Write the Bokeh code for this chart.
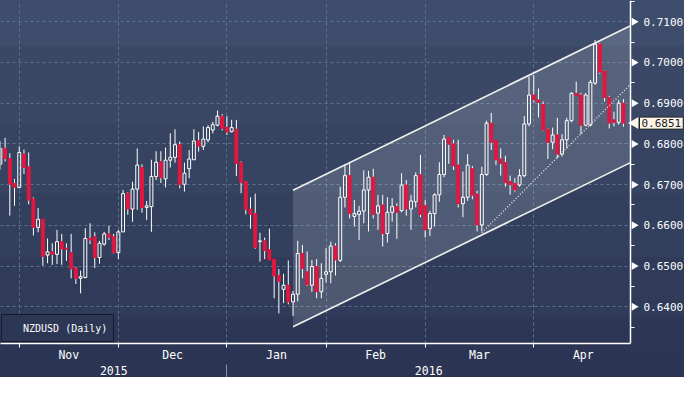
import math
import pandas as pd
from bokeh.plotting import figure
from bokeh.models import (FixedTicker, LinearAxis, Label, Legend, LegendItem,
                          PrintfTickFormatter, Range1d, ColumnDataSource)
from bokeh.embed import file_html
from bokeh.resources import INLINE

# ---------------- data (NZDUSD daily) ----------------
dates = pd.bdate_range("2015-10-27", "2016-04-28")

opens = [0.6750, 0.6789, 0.6764, 0.6703, 0.6693, 0.6775, 0.6744, 0.6665, 0.6595, 0.6615,
         0.6527, 0.6535, 0.6529, 0.6560, 0.6544, 0.6533, 0.6495, 0.6470, 0.6472, 0.6568,
         0.6572, 0.6521, 0.6554, 0.6579, 0.6572, 0.6533, 0.6584, 0.6678, 0.6640, 0.6689,
         0.6742, 0.6644, 0.6646, 0.6720, 0.6756, 0.6714, 0.6760, 0.6767, 0.6798, 0.6701,
         0.6739, 0.6761, 0.6808, 0.6794, 0.6810, 0.6834, 0.6846, 0.6868, 0.6841, 0.6830,
         0.6836, 0.6754, 0.6707, 0.6640, 0.6629, 0.6560, 0.6562, 0.6540, 0.6517, 0.6477,
         0.6443, 0.6453, 0.6412, 0.6431, 0.6531, 0.6486, 0.6453, 0.6499, 0.6437, 0.6480,
         0.6486, 0.6549, 0.6514, 0.6669, 0.6722, 0.6622, 0.6627, 0.6635, 0.6687, 0.6718,
         0.6630, 0.6650, 0.6580, 0.6632, 0.6646, 0.6636, 0.6699, 0.6640, 0.6658, 0.6724,
         0.6648, 0.6592, 0.6629, 0.6675, 0.6725, 0.6816, 0.6800, 0.6748, 0.6653, 0.6669,
         0.6739, 0.6677, 0.6601, 0.6725, 0.6851, 0.6808, 0.6763, 0.6754, 0.6707, 0.6703,
         0.6699, 0.6722, 0.6849, 0.6920, 0.6908, 0.6897, 0.6836, 0.6804, 0.6822, 0.6775,
         0.6810, 0.6857, 0.6924, 0.6920, 0.6846, 0.6846, 0.6949, 0.7045, 0.6979, 0.6914,
         0.6859, 0.6853, 0.6900]
highs = [0.6807, 0.6815, 0.6777, 0.6714, 0.6794, 0.6786, 0.6779, 0.6669, 0.6643, 0.6615,
         0.6568, 0.6556, 0.6589, 0.6579, 0.6556, 0.6579, 0.6498, 0.6489, 0.6593, 0.6605,
         0.6583, 0.6562, 0.6584, 0.6599, 0.6579, 0.6589, 0.6687, 0.6681, 0.6707, 0.6789,
         0.6750, 0.6660, 0.6761, 0.6782, 0.6782, 0.6791, 0.6826, 0.6836, 0.6806, 0.6754,
         0.6785, 0.6836, 0.6829, 0.6843, 0.6846, 0.6854, 0.6882, 0.6873, 0.6868, 0.6859,
         0.6859, 0.6757, 0.6709, 0.6669, 0.6678, 0.6582, 0.6570, 0.6592, 0.6517, 0.6493,
         0.6481, 0.6514, 0.6439, 0.6562, 0.6552, 0.6536, 0.6515, 0.6517, 0.6507, 0.6544,
         0.6560, 0.6556, 0.6695, 0.6750, 0.6756, 0.6662, 0.6648, 0.6735, 0.6734, 0.6739,
         0.6675, 0.6675, 0.6669, 0.6667, 0.6654, 0.6728, 0.6711, 0.6675, 0.6730, 0.6773,
         0.6662, 0.6636, 0.6679, 0.6755, 0.6822, 0.6816, 0.6810, 0.6810, 0.6732, 0.6775,
         0.6746, 0.6685, 0.6744, 0.6857, 0.6876, 0.6808, 0.6789, 0.6771, 0.6722, 0.6716,
         0.6738, 0.6868, 0.6965, 0.6969, 0.6936, 0.6904, 0.6838, 0.6840, 0.6864, 0.6824,
         0.6864, 0.6927, 0.6953, 0.6925, 0.6925, 0.6957, 0.7055, 0.7048, 0.6981, 0.6918,
         0.6879, 0.6908, 0.6910]
lows = [0.6737, 0.6757, 0.6624, 0.6648, 0.6691, 0.6726, 0.6652, 0.6575, 0.6583, 0.6501,
        0.6507, 0.6503, 0.6505, 0.6503, 0.6513, 0.6470, 0.6456, 0.6433, 0.6470, 0.6554,
        0.6495, 0.6506, 0.6550, 0.6564, 0.6531, 0.6517, 0.6584, 0.6626, 0.6609, 0.6638,
        0.6631, 0.6613, 0.6584, 0.6711, 0.6704, 0.6693, 0.6742, 0.6754, 0.6691, 0.6683,
        0.6716, 0.6761, 0.6781, 0.6785, 0.6804, 0.6826, 0.6843, 0.6833, 0.6822, 0.6828,
        0.6721, 0.6679, 0.6627, 0.6592, 0.6542, 0.6511, 0.6517, 0.6515, 0.6421, 0.6384,
        0.6409, 0.6406, 0.6378, 0.6413, 0.6470, 0.6451, 0.6437, 0.6421, 0.6421, 0.6460,
        0.6458, 0.6477, 0.6510, 0.6644, 0.6617, 0.6597, 0.6564, 0.6605, 0.6585, 0.6617,
        0.6589, 0.6548, 0.6558, 0.6609, 0.6567, 0.6632, 0.6624, 0.6589, 0.6644, 0.6620,
        0.6570, 0.6574, 0.6597, 0.6658, 0.6718, 0.6751, 0.6736, 0.6644, 0.6620, 0.6660,
        0.6664, 0.6585, 0.6585, 0.6721, 0.6785, 0.6748, 0.6722, 0.6695, 0.6675, 0.6683,
        0.6695, 0.6718, 0.6843, 0.6902, 0.6865, 0.6832, 0.6763, 0.6787, 0.6765, 0.6769,
        0.6789, 0.6853, 0.6918, 0.6824, 0.6843, 0.6843, 0.6945, 0.6972, 0.6904, 0.6838,
        0.6843, 0.6847, 0.6842]
closes = [0.6789, 0.6764, 0.6701, 0.6693, 0.6779, 0.6742, 0.6662, 0.6595, 0.6615, 0.6524,
          0.6535, 0.6529, 0.6560, 0.6542, 0.6541, 0.6493, 0.6470, 0.6474, 0.6568, 0.6564,
          0.6521, 0.6556, 0.6579, 0.6571, 0.6533, 0.6584, 0.6678, 0.6640, 0.6689, 0.6748,
          0.6644, 0.6648, 0.6720, 0.6755, 0.6717, 0.6760, 0.6767, 0.6798, 0.6700, 0.6728,
          0.6763, 0.6807, 0.6794, 0.6812, 0.6840, 0.6847, 0.6868, 0.6838, 0.6829, 0.6840,
          0.6752, 0.6705, 0.6639, 0.6627, 0.6545, 0.6562, 0.6538, 0.6515, 0.6476, 0.6463,
          0.6453, 0.6412, 0.6431, 0.6531, 0.6494, 0.6454, 0.6499, 0.6437, 0.6470, 0.6486,
          0.6549, 0.6515, 0.6669, 0.6722, 0.6629, 0.6629, 0.6635, 0.6687, 0.6718, 0.6627,
          0.6648, 0.6580, 0.6632, 0.6646, 0.6632, 0.6699, 0.6640, 0.6660, 0.6722, 0.6627,
          0.6589, 0.6629, 0.6675, 0.6725, 0.6812, 0.6799, 0.6746, 0.6653, 0.6669, 0.6748,
          0.6674, 0.6601, 0.6725, 0.6851, 0.6804, 0.6761, 0.6752, 0.6705, 0.6700, 0.6687,
          0.6722, 0.6849, 0.6920, 0.6908, 0.6902, 0.6834, 0.6804, 0.6822, 0.6775, 0.6810,
          0.6857, 0.6924, 0.6919, 0.6846, 0.6920, 0.6951, 0.7045, 0.6976, 0.6914, 0.6851,
          0.6853, 0.6900, 0.6851]

last_price = 0.6851
series_name = "NZDUSD (Daily)"
price_ticks = [0.64, 0.65, 0.66, 0.67, 0.68, 0.69, 0.70, 0.71]
price_minor = [0.635, 0.645, 0.655, 0.665, 0.675, 0.685, 0.695, 0.705, 0.715]
month_labels = ["Nov", "Dec", "Jan", "Feb", "Mar", "Apr"]
year_labels = ["2015", "2016"]

# trend channel (anchored on trading-day index) and inner trend line
channel_x = [62, 133.5]
channel_upper = [0.6686, 0.7090]
channel_lower = [0.6351, 0.6754]
trend_x = [102, 133.5]
trend_y = [0.6582, 0.6946]

# ---------------- layout constants ----------------
W, H = 684, 377
AXIS_PX = 630                    # horizontal pixel position of the price axis
x_start, x_axis = 0.03, 133.5    # data edges of the price area
ppu = AXIS_PX / (x_axis - x_start)
x_end = x_axis + (W - AXIS_PX) / ppu

n = len(dates)
xs = list(range(n))
month_starts = [i for i in range(1, n) if dates[i].month != dates[i - 1].month]
apr_days = len(pd.bdate_range("2016-04-01", "2016-04-30"))
bounds = month_starts + [month_starts[-1] + apr_days]
month_mid = [round((bounds[k] + bounds[k + 1]) / 2, 2) for k in range(len(month_starts))]
year_break = [i for i in range(1, n) if dates[i].year != dates[i - 1].year][0]
year_mid = [round((x_start + year_break) / 2, 2), round((year_break + x_axis) / 2, 2)]

RED = "#e2173f"
CREAM = "#fdf5ea"
body_top = [max(o, c) for o, c in zip(opens, closes)]
body_bot = [min(o, c) for o, c in zip(opens, closes)]
up = [c >= o for o, c in zip(opens, closes)]
src = ColumnDataSource(dict(
    x=xs, high=highs, low=lows, top=body_top, bot=body_bot,
    fill=["#ffffff" if u else RED for u in up],
    falpha=[0.0 if u else 1.0 for u in up],
    line=["#ffffff" if u else RED for u in up],
))

FONT = "DejaVu Sans Mono"

p = figure(width=W, height=H, x_range=Range1d(x_start, x_end),
           y_range=Range1d(0.6310, 0.7152), y_axis_location="right",
           output_backend="svg", toolbar_location=None,
           min_border_left=0, min_border_top=0, min_border_right=0, min_border_bottom=0)
p.background_fill_alpha = 0
p.border_fill_alpha = 0
p.outline_line_color = None
p.styles = {"background": (
    "linear-gradient(to bottom, #3e4d6b 0px, #3e4d6b 46px, #3a4866 46px, #3a4866 124px, "
    "#364461 124px, #364461 193px, #323f5d 193px, #323f5d 257px, #2f3b59 257px, "
    "#2f3b59 317px, #2c3755 317px, #2b3553 100%)")}

# grid
p.xgrid.ticker = FixedTicker(ticks=month_starts)
p.ygrid.ticker = FixedTicker(ticks=price_ticks)
p.ygrid[0].cross_bounds = (x_start, x_axis)
for g in (p.xgrid[0], p.ygrid[0]):
    g.grid_line_color = "#58758f"
    g.grid_line_dash = "3 3"
    g.grid_line_width = 1

# channel shading
p.patch(x=[channel_x[0], channel_x[1], channel_x[1], channel_x[0]],
        y=[channel_upper[0], channel_upper[1], channel_lower[1], channel_lower[0]],
        fill_color="#ffffff", fill_alpha=0.15, line_color=None)

# candles
p.segment(x0="x", y0="high", x1="x", y1="top", source=src, line_color="#ffffff", line_width=1)
p.segment(x0="x", y0="bot", x1="x", y1="low", source=src, line_color="#ffffff", line_width=1)
p.vbar(x="x", width=0.62, top="top", bottom="bot", source=src,
       fill_color="fill", fill_alpha="falpha", line_color="line", line_width=1)

# channel lines
p.line(channel_x, channel_upper, line_color="#f0f0f0", line_width=1.6)
p.line(channel_x, channel_lower, line_color="#f0f0f0", line_width=1.6)
p.line(trend_x, trend_y, line_color="#e8e8e8", line_width=1.4, line_dash="1 2")

# right price axis, pinned at the right edge of the price area
ya = p.yaxis[0]
ya.fixed_location = x_axis
ya.ticker = FixedTicker(ticks=price_ticks, minor_ticks=price_minor)
ya.formatter = PrintfTickFormatter(format="%.4f")
ya.axis_line_color = "#ffffff"
ya.axis_line_width = 1.5
ya.major_tick_line_color = None
ya.major_tick_in = 0
ya.major_tick_out = 0
ya.minor_tick_line_color = "#ffffff"
ya.minor_tick_in = 0
ya.minor_tick_out = 4
ya.major_label_standoff = 9
ya.major_label_text_color = "#ffffff"
ya.major_label_text_font = FONT
ya.major_label_text_font_size = "11px"

# tick arrowheads on the price axis
p.scatter(x=[x_axis + 3.5 / ppu] * len(price_ticks), y=price_ticks, marker="triangle",
          angle=-math.pi / 2, size=8, fill_color="#ffffff", line_color=None)

# bottom month axis
xa = p.xaxis[0]
xa.bounds = (x_start, x_axis)
xa.ticker = FixedTicker(ticks=month_mid, minor_ticks=month_starts)
xa.major_label_overrides = {m: lab for m, lab in zip(month_mid, month_labels)}
xa.axis_line_color = "#ffffff"
xa.axis_line_width = 1.5
xa.major_tick_out = 0
xa.major_tick_in = 0
xa.minor_tick_line_color = "#ffffff"
xa.minor_tick_in = 0
xa.minor_tick_out = 4
xa.major_label_standoff = 0
xa.axis_label_standoff = 0
xa.major_label_text_color = "#ffffff"
xa.major_label_text_font = FONT
xa.major_label_text_font_size = "11.5px"

# year axis (separator drawn as an outward minor tick at the year break)
ya2 = LinearAxis(ticker=FixedTicker(ticks=year_mid, minor_ticks=[year_break]))
ya2.major_label_overrides = {m: lab for m, lab in zip(year_mid, year_labels)}
ya2.bounds = (x_start, x_axis)
ya2.axis_line_alpha = 0
ya2.major_tick_out = 0
ya2.major_tick_in = 0
ya2.minor_tick_in = -16
ya2.minor_tick_out = 0
ya2.minor_tick_line_color = "#8b93a6"
ya2.major_label_standoff = 1
ya2.axis_label_standoff = 0
ya2.major_label_text_color = "#ffffff"
ya2.major_label_text_font = FONT
ya2.major_label_text_font_size = "11.5px"
p.add_layout(ya2, "below")

# legend
dummy = p.scatter(x=[], y=[], marker="square", size=10, fill_color=CREAM, line_color=None)
leg = Legend(items=[LegendItem(label=series_name, renderers=[dummy])], location=(1, 1))
leg.margin = 0
leg.padding = 6
leg.glyph_width = 10
leg.glyph_height = 10
leg.label_standoff = 5
leg.label_height = 14
leg.label_text_color = "#ffffff"
leg.label_text_font = FONT
leg.label_text_font_size = "10px"
leg.background_fill_color = "#2c3755"
leg.background_fill_alpha = 1
leg.border_line_color = "#000000"
leg.border_line_width = 1.5
p.add_layout(leg)

# last price tag
p.scatter(x=[x_axis + 4.5 / ppu], y=[last_price], marker="triangle", angle=math.pi / 2,
          size=12, fill_color=CREAM, line_color=None)
p.add_layout(Label(x=x_axis, y=last_price, text=f"{last_price:.4f}", x_offset=9,
                   text_baseline="middle", text_color="#1a1a1a", text_font=FONT,
                   text_font_size="11px", background_fill_color=CREAM,
                   border_line_color="#222222", padding=2))

open("out.html", "w").write(file_html(p, INLINE))
